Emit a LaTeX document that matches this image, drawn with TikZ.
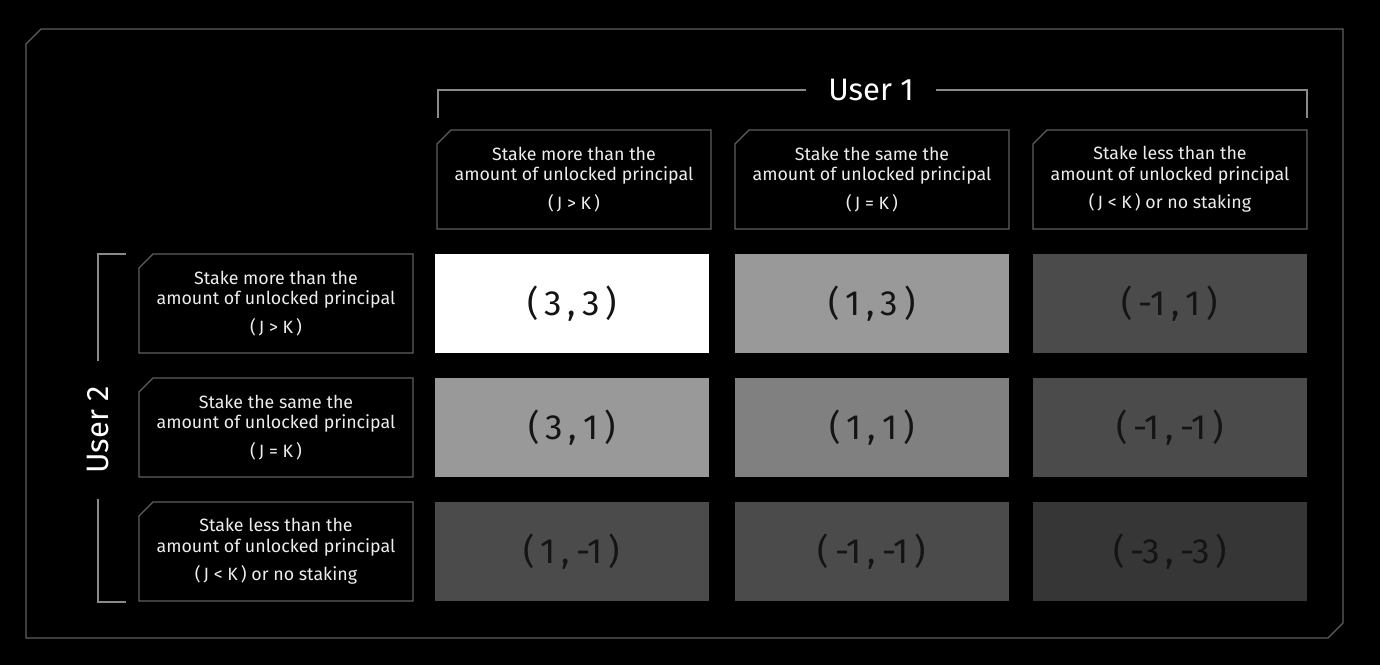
\documentclass[tikz,border=0pt]{standalone}
\usepackage{fontspec}
\setmainfont{Fira Sans}
\usetikzlibrary{positioning, shapes.misc}

\definecolor{edgegray}{HTML}{5E5E5E}
\definecolor{bracegray}{HTML}{8A8A8A}
\definecolor{payA}{HTML}{FFFFFF}
\definecolor{payB}{HTML}{999999}
\definecolor{payC}{HTML}{808080}
\definecolor{payD}{HTML}{4B4B4B}
\definecolor{payE}{HTML}{363636}

\tikzset{
    choice/.style={chamfered rectangle, chamfered rectangle corners=north west,
        chamfered rectangle xsep=7pt, chamfered rectangle ysep=7pt,
        draw=edgegray, line width=1.2pt, fill=black, text=white!93!black,
        minimum width=274pt, minimum height=99pt, inner sep=0pt,
        align=center, font=\fontsize{17.8}{20.5}\selectfont},
    payoff/.style={rectangle, minimum width=274pt, minimum height=99pt,
        inner sep=0pt, text=black!92, font=\fontsize{35}{35}\selectfont},
    user/.style={text=white, font=\fontsize{31}{31}\selectfont, inner sep=22pt}
}

\newcommand{\pay}[2]{(\,#1\,,\,#2\,)}

\begin{document}
\begin{tikzpicture}[x=1pt, y=-1pt]
    \fill[black] (0,0) rectangle (1380,665);
    \useasboundingbox (0,0) rectangle (1380,665);

    % outer frame
    \draw[edgegray, line width=1.2pt] (26,44) -- (41,29) -- (1343,29)
        -- (1343,623) -- (1328,638) -- (26,638) -- cycle;

    % column heads (user 1)
    \node [choice] (C1) at (574,179.5) {Stake more than the\\amount of unlocked principal\\[8pt](\,J > K\,)};
    \node [choice] (C2) at (872,179.5) {Stake the same the\\amount of unlocked principal\\[8pt](\,J = K\,)};
    \node [choice] (C3) at (1170,179.5) {Stake less than the\\amount of unlocked principal\\[8pt](\,J < K\,) or no staking};

    % row heads (user 2)
    \node [choice] (R1) at (276,303.5) {Stake more than the\\amount of unlocked principal\\[8pt](\,J > K\,)};
    \node [choice] (R2) at (276,427.5) {Stake the same the\\amount of unlocked principal\\[8pt](\,J = K\,)};
    \node [choice] (R3) at (276,551.5) {Stake less than the\\amount of unlocked principal\\[8pt](\,J < K\,) or no staking};

    % payoffs
    \node [payoff, fill=payA] (P11) at (572,303.5) {\pay{3}{3}};
    \node [payoff, fill=payB] (P12) at (872,303.5) {\pay{1}{3}};
    \node [payoff, fill=payD] (P13) at (1170,303.5) {\pay{-1}{1}};
    \node [payoff, fill=payB] (P21) at (572,427.5) {\pay{3}{1}};
    \node [payoff, fill=payC] (P22) at (872,427.5) {\pay{1}{1}};
    \node [payoff, fill=payD] (P23) at (1170,427.5) {\pay{-1}{-1}};
    \node [payoff, fill=payD] (P31) at (572,551.5) {\pay{1}{-1}};
    \node [payoff, fill=payD] (P32) at (872,551.5) {\pay{-1}{-1}};
    \node [payoff, fill=payE] (P33) at (1170,551.5) {\pay{-3}{-3}};

    % brackets
    \node [user] (U1) at (871,90) {User 1};
    \coordinate (U1a) at (438,90);
    \coordinate (U1b) at (1307,90);
    \draw[bracegray, line width=1.2pt] (U1.west) -- (U1a) -- ++(0,28);
    \draw[bracegray, line width=1.2pt] (U1.east) -- (U1b) -- ++(0,28);

    \node [user, rotate=90, inner sep=25pt] (U2) at (98,430) {User 2};
    \coordinate (U2a) at (98,254);
    \coordinate (U2b) at (98,602);
    \draw[bracegray, line width=1.2pt] (U2.east) -- (U2a) -- ++(28,0);
    \draw[bracegray, line width=1.2pt] (U2.west) -- (U2b) -- ++(28,0);
\end{tikzpicture}
\end{document}
